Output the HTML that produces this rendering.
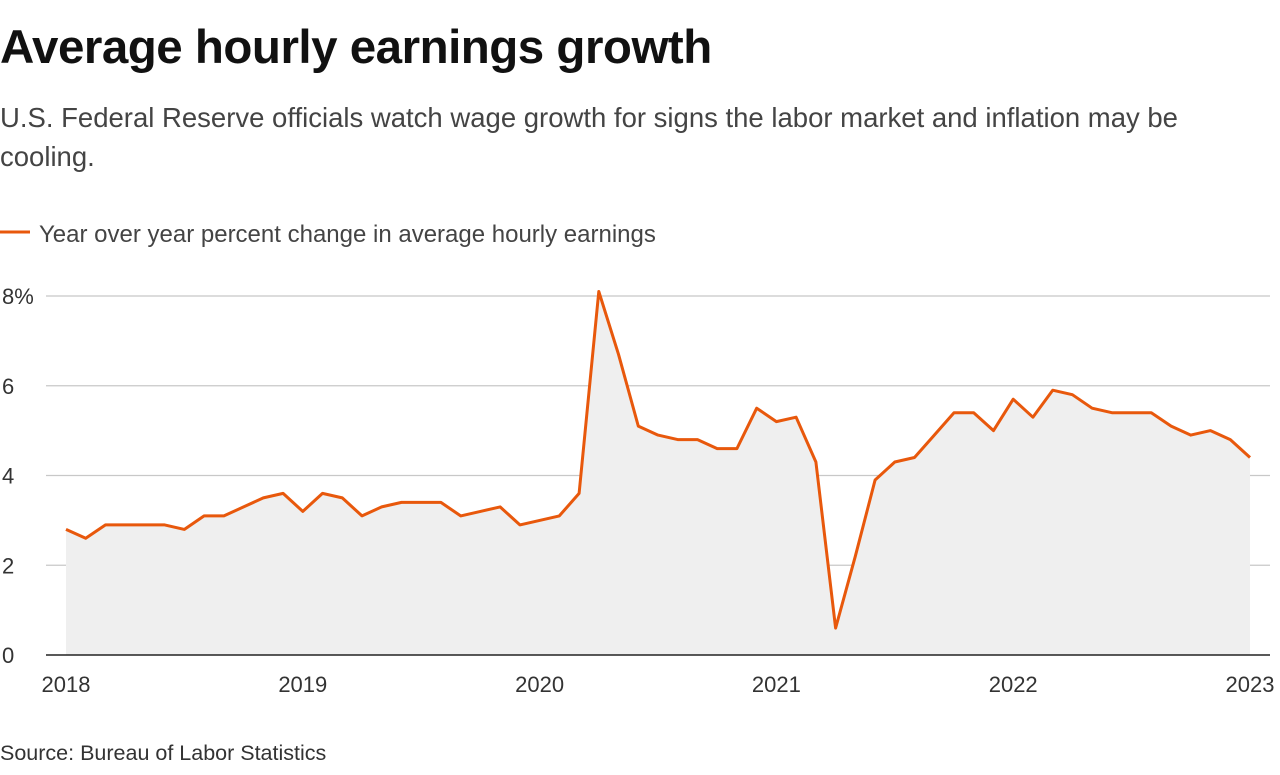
<!DOCTYPE html>
<html><head><meta charset="utf-8"><style>
body{margin:0;background:#fff;width:1280px;height:775px;overflow:hidden;font-family:"Liberation Sans",sans-serif;color:#222}
h1{position:absolute;left:0;top:20px;margin:0;font-size:47.5px;font-weight:bold;letter-spacing:-0.5px;color:#111}
.sub{position:absolute;left:0;top:98px;width:1200px;font-size:27.5px;line-height:39px;color:#444}
.src{position:absolute;left:0;top:741px;font-size:21.5px;color:#333}
svg{position:absolute;left:0;top:0}
</style></head><body>
<h1>Average hourly earnings growth</h1>
<div class="sub">U.S. Federal Reserve officials watch wage growth for signs the labor market and inflation may be cooling.</div>
<div class="src">Source: Bureau of Labor Statistics</div>
<svg id="chart" width="1280" height="775"></svg>
<script>
const values=[2.8,2.6,2.9,2.9,2.9,2.9,2.8,3.1,3.1,3.3,3.5,3.6,
3.2,3.6,3.5,3.1,3.3,3.4,3.4,3.4,3.1,3.2,3.3,2.9,
3.0,3.1,3.6,8.1,6.7,5.1,4.9,4.8,4.8,4.6,4.6,5.5,
5.2,5.3,4.3,0.6,2.2,3.9,4.3,4.4,4.9,5.4,5.4,5.0,
5.7,5.3,5.9,5.8,5.5,5.4,5.4,5.4,5.1,4.9,5.0,4.8,4.4];
const yTicks=[0,2,4,6,8];
const yTickLabels=["0","2","4","6","8%"];
const xTickLabels=["2018","2019","2020","2021","2022","2023"];
const NS="http://www.w3.org/2000/svg";
const svg=document.getElementById('chart');
const x0=66,x1=1250,y0=655,yTop=296;
const xs=i=>x0+(x1-x0)*i/(values.length-1);
const ys=v=>y0-(y0-yTop)*v/8;
function mk(t,a){const e=document.createElementNS(NS,t);for(const k in a)e.setAttribute(k,a[k]);svg.appendChild(e);return e;}
yTicks.forEach((v,i)=>{
 if(v>0){const g=mk('line',{x1:46,x2:1270,y1:ys(v),y2:ys(v),stroke:'#c8c8c8','stroke-width':1.2});
 
 }
 const t=mk('text',{x:2,y:ys(v)+8,'font-size':22,fill:'#333'});t.textContent=yTickLabels[i];
 
 
});
let d=values.map((v,i)=>(i?'L':'M')+xs(i).toFixed(1)+','+ys(v).toFixed(1)).join('');
const area=mk('path',{d:d+`L${x1},${y0}L${x0},${y0}Z`,fill:'#efefef'});


const base=mk('line',{x1:46,x2:1270,y1:y0,y2:y0,stroke:'#222','stroke-width':1.5});


const line=mk('path',{d:d,fill:'none',stroke:'#e8580c','stroke-width':3,'stroke-linejoin':'round'});


xTickLabels.forEach((l,i)=>{
 const t=mk('text',{x:xs(i*12),y:692,'font-size':22,fill:'#333','text-anchor':'middle'});t.textContent=l;
 
 
});
const ll=mk('line',{x1:0,x2:30,y1:232,y2:232,stroke:'#e8580c','stroke-width':3});


const lt=mk('text',{x:39,y:242,'font-size':24,fill:'#444'});lt.textContent='Year over year percent change in average hourly earnings';


</script>
</body></html>
